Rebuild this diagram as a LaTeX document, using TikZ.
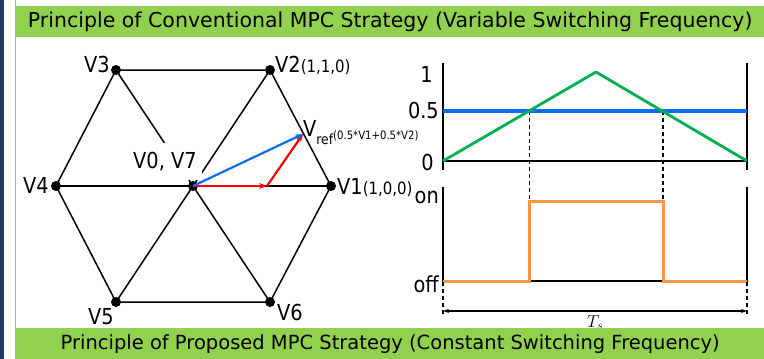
\documentclass[tikz,border=0pt]{standalone}
\usepackage{fontspec}
\setmainfont{DejaVu Sans}[FakeStretch=0.88]
\newfontfamily\titlefont{DejaVu Sans}
\usepackage{tikz}
\usetikzlibrary{arrows.meta,positioning}
\definecolor{Navy}{HTML}{1F3A60}
\definecolor{BarGreen}{HTML}{92D050}
\definecolor{RefBlue}{HTML}{0A6CF5}
\definecolor{CarrierGreen}{HTML}{00B050}
\definecolor{PulseOrange}{HTML}{F79646}
\definecolor{VecRed}{HTML}{FF0000}
\newcommand{\bigfont}{\fontsize{22}{24}\selectfont}
\newcommand{\tuplefont}{\fontsize{17}{17}\selectfont}
\tikzset{
  banner/.style={fill=BarGreen, anchor=north west, inner sep=0pt, minimum width=748pt, minimum height=31pt, font=\titlefont\fontsize{20.5}{20.5}\selectfont},
  vdot/.style={circle, fill=black, inner sep=0pt, minimum size=10pt},
  vlabel/.style={inner sep=0pt, font=\bigfont},
  zerobox/.style={fill=white, inner xsep=5pt, inner ysep=9pt, font=\bigfont},
  hexedge/.style={draw=black, line width=1.5pt},
  axisline/.style={draw=black, line width=2.6pt},
  vecarrow/.style={-{Stealth[length=8pt,width=6pt]}, line width=2.2pt},
  guideline/.style={draw=black, line width=1.5pt, dash pattern=on 4pt off 3pt},
  dimarrow/.style={{Stealth[length=6pt,width=4pt]}-{Stealth[length=6pt,width=4pt]}, line width=1.2pt}
}

\begin{document}
\begin{tikzpicture}[x=1pt, y=-1pt]
  \useasboundingbox (0,0) rectangle (764,359);
  \fill[Navy] (0,0) rectangle (4,359);
  \draw[BarGreen, line width=1.8pt] (15.5,0) -- (15.5,359);

  \coordinate (V0) at (193,186);
  \coordinate (V1) at (331,186);
  \coordinate (V2) at (270,70);
  \coordinate (V3) at (116,70);
  \coordinate (V4) at (56,186);
  \coordinate (V5) at (116,302);
  \coordinate (V6) at (270,302);
  \coordinate (Vhalf) at (267,186);
  \coordinate (Vref) at (303,134);

  \draw[hexedge] (V1) -- (V2) -- (V3) -- (V4) -- (V5) -- (V6) -- cycle;
  \draw[hexedge] (V4) -- (V1);
  \draw[hexedge] (V3) -- (V6);
  \draw[hexedge] (V2) -- (V5);
  \node[zerobox, anchor=base west] (lab0) at (128,168) {V0, V7};

  \foreach \v in {0,...,6}
    \node[vdot] (dot\v) at (V\v) {};

  \draw[vecarrow, VecRed] (V0) -- (Vhalf);
  \draw[vecarrow, VecRed] (Vhalf) -- (Vref);
  \draw[vecarrow, RefBlue] (V0) -- (Vref);

  \node[vlabel, anchor=base east] (lab3) at (110,72) {V3};
  \node[vlabel, anchor=base west] (lab2) at (275,72) {V2{\tuplefont(1,1,0)}};
  \node[vlabel, anchor=base east] (lab4) at (49,193) {V4};
  \node[vlabel, anchor=base west] (lab1) at (337,194) {V1{\tuplefont(1,0,0)}};
  \node[vlabel, anchor=base east] (lab5) at (114,324) {V5};
  \node[vlabel, anchor=base west] (lab6) at (277,320) {V6};
  \node[vlabel, anchor=base west] (labref) at (303,136)
    {V\raisebox{-8pt}{\fontsize{14}{14}\selectfont ref}\raisebox{-3pt}{\fontsize{11.5}{11.5}\selectfont (0.5*V1+0.5*V2)}};

  \coordinate (c0) at (443,161);
  \coordinate (c1) at (747,161);
  \coordinate (cpeak) at (596,72);
  \coordinate (cltop) at (443,63);
  \coordinate (clbot) at (443,170);
  \coordinate (crtop) at (747,63);
  \coordinate (crbot) at (747,170);
  \coordinate (hl) at (443,111);
  \coordinate (hr) at (747,111);
  \coordinate (x1) at (529.5,111);
  \coordinate (x2) at (663,111);
  \coordinate (p1) at (529.5,201);
  \coordinate (p2) at (663,201);
  \coordinate (soff) at (443,281);
  \coordinate (eoff) at (747,281);
  \coordinate (q1) at (529.5,281);
  \coordinate (q2) at (663,281);
  \coordinate (sltop) at (443,187);
  \coordinate (slbot) at (443,282);
  \coordinate (srtop) at (747,187);
  \coordinate (srbot) at (747,282);
  \coordinate (tsl) at (443,315);
  \coordinate (tsr) at (747,315);
  \coordinate (al) at (443,311);
  \coordinate (ar) at (747,311);

  \draw[guideline] (x1) -- (p1);
  \draw[guideline] (x2) -- (p2);
  \draw[axisline] (cltop) -- (clbot);
  \draw[axisline] (crtop) -- (crbot);
  \draw[axisline] (c0) -- (c1);
  \draw[RefBlue, line width=3.2pt] (hl) -- (hr);
  \draw[CarrierGreen, line width=2.8pt, line join=round] (c0) -- (cpeak) -- (c1);

  \draw[axisline] (sltop) -- (slbot);
  \draw[axisline] (srtop) -- (srbot);
  \draw[draw=black, line width=2.4pt] (soff) -- (eoff);
  \draw[PulseOrange, line width=3pt] (soff) -- (q1) -- (p1) -- (p2) -- (q2) -- (eoff);

  \draw[guideline] (slbot) -- (tsl);
  \draw[guideline] (srbot) -- (tsr);
  \draw[dimarrow] (al) -- (ar);

  \node[vlabel, anchor=base east] (ty1) at (433,82) {1};
  \node[vlabel, anchor=base east] (ty05) at (439,118) {0.5};
  \node[vlabel, anchor=base east] (ty0) at (434,170) {0};
  \node[vlabel, anchor=base east] (ton) at (439,203) {on};
  \node[vlabel, anchor=base east] (toff) at (439,292) {off};
  \node[inner sep=0pt, anchor=base west, font=\fontsize{17}{17}\selectfont] (ts) at (587,327) {$T_s$};

  \node[banner] (toptitle) at (16,6) {Principle of Conventional MPC Strategy (Variable Switching Frequency)};
  \node[banner, font=\titlefont\fontsize{19.5}{19.5}\selectfont] (bottitle) at (16,328) {Principle of Proposed MPC Strategy (Constant Switching Frequency)};
\end{tikzpicture}
\end{document}
